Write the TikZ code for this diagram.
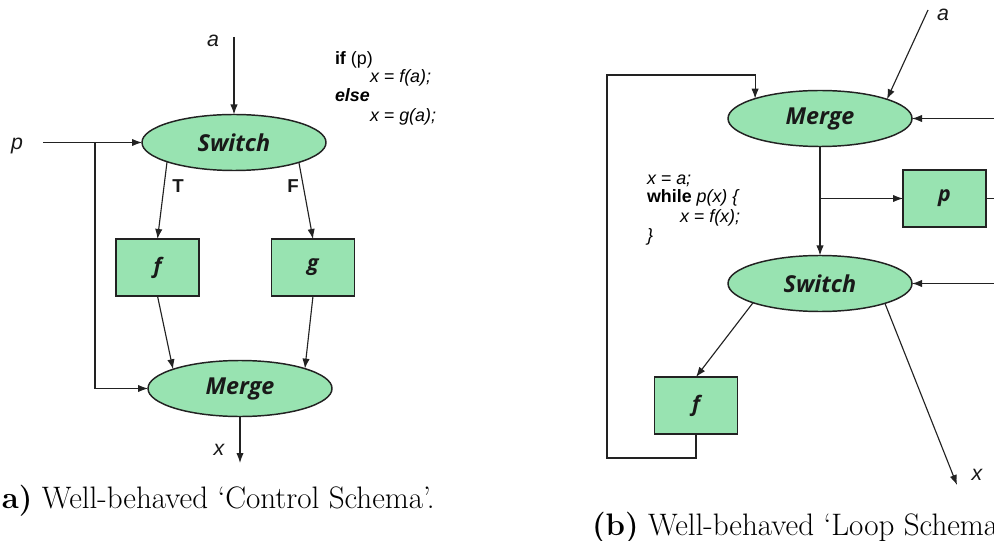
\documentclass[tikz,border=0pt]{standalone}
\usepackage{fontspec}
\usetikzlibrary{shapes.geometric,arrows.meta}
\newfontfamily\nodefont{Open Sans}
\newfontfamily\codefont{Liberation Sans}
\definecolor{nodegreen}{HTML}{98E3B1}
\definecolor{edgecol}{HTML}{222222}
\begin{document}
\begin{tikzpicture}[x=0.75pt,y=-0.75pt,
  every node/.style={inner sep=0pt, outer sep=0pt},
  oval/.style={ellipse, draw=edgecol, line width=1.1pt, fill=nodegreen, minimum width=138pt, minimum height=42pt,
    font=\nodefont\bfseries\itshape\fontsize{17.5}{20}\selectfont, text=black!90},
  greenbox/.style={rectangle, draw=edgecol, line width=1.1pt, fill=nodegreen, minimum width=62.25pt, minimum height=42.75pt,
    font=\nodefont\bfseries\itshape\fontsize{16}{19}\selectfont, text=black!90},
  conn/.style={draw=edgecol, line width=0.85pt, -{Latex[length=7.5pt,width=5.5pt]}},
  plain/.style={draw=edgecol, line width=0.85pt},
  codetext/.style={font=\codefont\fontsize{13.4}{16}\selectfont, anchor=base west, text=black},
  lbl/.style={font=\codefont\itshape\fontsize{16}{19}\selectfont, anchor=base, text=black!90},
  tf/.style={font=\codefont\bfseries\fontsize{14}{16}\selectfont, anchor=base, text=black!90},
  captext/.style={font=\fontsize{23.3}{28}\selectfont, anchor=base west}
]
\useasboundingbox (0,0) rectangle (994,541);
\clip (0,0) rectangle (994,541);

% ---------- left: control schema ----------
\node[oval] (swL) at (234,142.5) {Switch};
\node[oval] (meL) at (240,388.5) {Merge};
\node[greenbox] (fL) at (157.5,267.5) {f};
\node[greenbox] (gL) at (313,267.5) {g};
\node[lbl] (aL) at (213,47) {a};
\node[lbl] (pL) at (17,150) {p};
\node[lbl] (xL) at (219,455) {x};
\node[tf] (tL) at (178,193) {T};
\node[tf] (fLbl) at (293,193) {F};
\coordinate (aLs) at (234,37);
\coordinate (pLs) at (43,142.5);
\coordinate (brL) at (95,142.5);
\coordinate (xLe) at (240,463);

\draw[conn] (aLs) -- (swL.north);
\draw[conn] (pLs) -- (swL.west);
\draw[conn] (brL) |- (meL.west);
\draw[conn] (swL.196) -- (fL.north);
\draw[conn] (swL.343) -- (gL.north);
\draw[conn] (fL.south) -- (meL.164);
\draw[conn] (gL.south) -- (meL.17);
\draw[conn] (meL.south) -- (xLe);

\node[codetext] (c1) at (335,65) {\textbf{if} (p)};
\node[codetext] (c2) at (370,83) {\itshape x = f(a);};
\node[codetext] (c3) at (335,102) {\bfseries\itshape else};
\node[codetext] (c4) at (370,122) {\itshape x = g(a);};

% ---------- right: loop schema ----------
\node[oval] (meR) at (820,118.5) {Merge};
\node[oval] (swR) at (820,283.5) {Switch};
\node[greenbox] (pR) at (944.5,198.5) {p};
\node[greenbox] (fR) at (696,405.5) {f};
\node[lbl] (aR) at (943,21) {a};
\node[lbl] (xR) at (977,480) {x};
\coordinate (aRs) at (928,10);
\coordinate (brR) at (820,198.5);
\coordinate (pRe) at (1000,198.5);
\coordinate (inM) at (1000,118.5);
\coordinate (inS) at (1000,283.5);
\coordinate (loopBL) at (607,458);
\coordinate (loopTL) at (607,75);
\coordinate (xRe) at (957,485);

\draw[conn] (aRs) -- (meR.16.5);
\draw[conn] (inM) -- (meR.east);
\draw[conn] (meR.south) -- (swR.north);
\draw[conn] (brR) -- (pR.west);
\draw[plain] (pR.east) -- (pRe);
\draw[conn] (inS) -- (swR.east);
\draw[conn] (swR.196.5) -- (fR.north);
\draw[conn] (swR.343.5) -- (xRe);
\draw[conn] (fR.south) |- (loopBL) -- (loopTL) -| (meR.163);

\node[codetext] (d1) at (647,185) {\itshape x = a;};
\node[codetext] (d2) at (647,203) {\textbf{while} \itshape p(x) \{};
\node[codetext] (d3) at (680,223) {\itshape x = f(x);};
\node[codetext] (d4) at (647,242) {\itshape \}};

% ---------- captions ----------
\node[captext] (capA) at (2,508) {\textbf{a)} Well-behaved ‘Control Schema’.};
\node[captext] (capB) at (592,535) {\textbf{(b)} Well-behaved ‘Loop Schema’.};
\end{tikzpicture}
\end{document}
